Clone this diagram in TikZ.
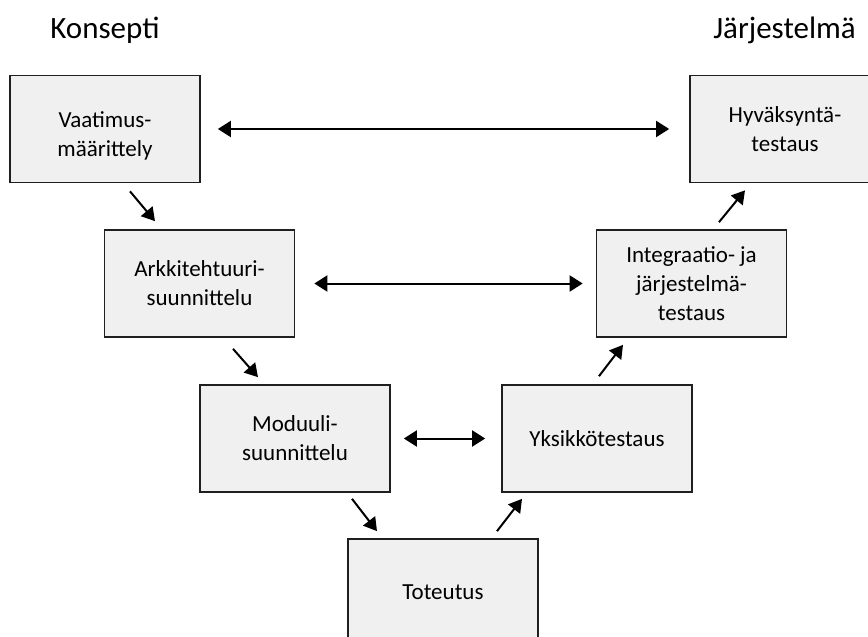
\documentclass[tikz,border=0pt]{standalone}
\usepackage{fontspec}
\setmainfont{Carlito}
\usetikzlibrary{arrows.meta,calc}
\begin{document}
\begin{tikzpicture}[x=1pt,y=-1pt,
  stagetext/.style={align=center, font=\fontsize{23}{29}\selectfont, inner sep=0pt},
  stage/.style={stagetext, draw=black!88, line width=1.7pt, fill=black!6,
    minimum width=190pt, minimum height=107pt},
  heading/.style={font=\fontsize{31}{36}\selectfont, anchor=base},
  flow/.style={line width=2pt, -{Triangle[length=13pt,width=15pt]}},
  link/.style={line width=2pt, {Triangle[length=13pt,width=16pt]}-{Triangle[length=13pt,width=16pt]}}]
  \useasboundingbox (0,0) rectangle (868,637);
  \clip (0,0) rectangle (868,637);

  % column headings
  \node[heading] (konsepti) at (105,38) {Konsepti};
  \node[heading] (jarjestelma) at (784.5,38) {Järjestelmä};

  % left branch: specification down to implementation
  \node[stage, label={[stagetext, yshift=-7pt]center:Vaatimus-\\määrittely}] (vaat) at (105,129) {};
  \node[stage] (ark) at (199.5,283.5) {Arkkitehtuuri-\\suunnittelu};
  \node[stage] (mod) at (295,438.5) {Moduuli-\\suunnittelu};
  \node[stage] (tot) at (443,592.5) {Toteutus};

  % right branch: testing levels up to acceptance
  \node[stage] (yks) at (597,438.5) {Yksikkötestaus};
  \node[stage] (int) at (691.5,283.5) {Integraatio- ja\\järjestelmä-\\testaus};
  \node[stage] (hyv) at (785,129) {Hyväksyntä-\\testaus};

  % correspondence between levels
  \draw[link, shorten <=17pt, shorten >=20pt] (vaat.east) -- (hyv.west);
  \draw[link, shorten <=19pt, shorten >=13pt] (ark.east) -- (int.west);
  \draw[link, shorten <=13pt, shorten >=16pt] (mod.east) -- (yks.west);

  % down the V
  \draw[flow] ($(vaat.south)+(25,8)$) -- ($(ark.north)+(-44.5,-8)$);
  \draw[flow] ($(ark.south)+(33.5,11)$) -- ($(mod.north)+(-37,-7)$);
  \draw[flow] ($(mod.south)+(57,6)$) -- ($(tot.north)+(-66,-7)$);

  % up the V
  \draw[flow] ($(tot.north)+(54,-7)$) -- ($(yks.south)+(-75,6)$);
  \draw[flow] ($(yks.north)+(2,-8)$) -- ($(int.south)+(-68.5,7)$);
  \draw[flow] ($(int.north)+(27.5,-7)$) -- ($(hyv.south)+(-40,7)$);
\end{tikzpicture}
\end{document}
